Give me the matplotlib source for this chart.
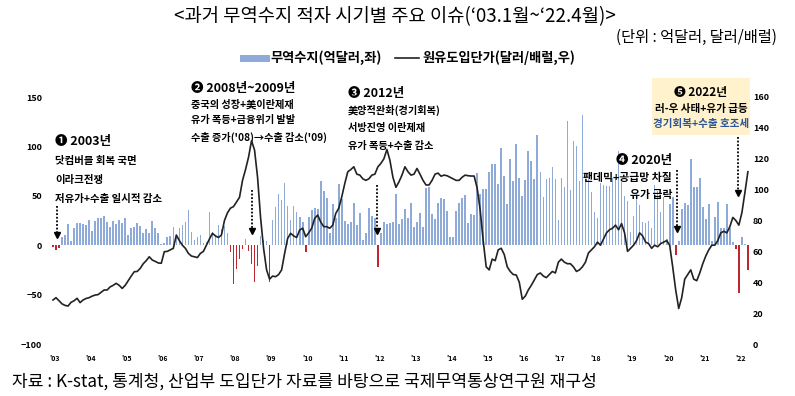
import numpy as np
import matplotlib
matplotlib.use("Agg")
import matplotlib.pyplot as plt
from matplotlib.lines import Line2D
from matplotlib.patches import Rectangle

plt.rcParams['font.family'] = ['Noto Sans CJK KR', 'DejaVu Sans']

# 무역수지 (억달러), 월별 2003.1 ~ 2022.4
t2003 = [-2, -5, -3, 8, 10, 21, 4, 17, 22, 22, 21, 20]
t2004 = [26, 14, 24, 28, 28, 30, 23, 18, 24, 21, 26, 22]
t2005 = [28, 10, 17, 18, 22, 19, 12, 16, 12, 25, 17, 12]
t2006 = [1, 2, 8, 9, 18, 8, 17, 20, 23, 36, 13, 5]
t2007 = [8, 10, 2, 3, 34, 13, 10, 20, 16, 19, 12, -7]
t2008 = [-39, -24, -14, -4, 6, -6, -19, -37, -21, 9, 5, 4]
t2009 = [-37, 26, 39, 52, 46, 63, 40, 26, 40, 34, 29, 23]
t2010 = [-7, 29, 36, 38, 37, 65, 55, 48, 12, 42, 28, 62]
t2011 = [47, 25, 21, 23, 43, 20, 33, 5, 12, 38, 30, 28]
t2012 = [-22, 12, 23, 21, 22, 23, 52, 21, 27, 37, 28, 43]
t2013 = [18, 23, 33, 18, 58, 59, 32, 27, 43, 48, 47, 35]
t2014 = [8, 8, 35, 43, 48, 51, 22, 32, 31, 73, 52, 57]
t2015 = [57, 74, 82, 82, 62, 98, 70, 42, 87, 65, 102, 68]
t2016 = [50, 66, 95, 85, 67, 112, 74, 49, 67, 68, 79, 67]
t2017 = [26, 68, 59, 126, 56, 105, 100, 65, 132, 67, 67, 54]
t2018 = [34, 28, 63, 61, 60, 60, 68, 67, 95, 64, 50, 45]
t2019 = [13, 30, 52, 41, 23, 22, 24, 17, 61, 55, 34, 49]
t2020 = [6, 42, 49, -10, 4, 37, 43, 41, 87, 59, 59, 68]
t2021 = [39, 27, 42, 4, 29, 44, 17, 17, 42, 17, 3, -4]
t2022 = [-48, 8, 1, -25]

# 원유도입단가 (달러/배럴)
o2003 = [28.5, 30, 28, 26, 25, 24.6, 27, 28, 29.6, 26.8, 28.5, 29.5]
o2004 = [30, 31, 31.7, 32, 33.5, 35, 35, 37, 38, 39.3, 38, 36]
o2005 = [38, 41, 44, 46.8, 47, 49, 52, 54, 56.5, 54.4, 53.5, 52.5]
o2006 = [52.3, 59.8, 60, 61, 62, 70.6, 67, 64, 62, 58.7, 57, 56.5]
o2007 = [56, 58.7, 60, 64, 68, 71.7, 70, 69, 70.6, 80, 85, 88]
o2008 = [89, 92, 95, 106, 113, 121, 131.7, 125.6, 108, 82, 62, 48]
o2009 = [42, 44, 43.6, 45, 48, 58.7, 68.4, 71.7, 70, 69, 73.8, 75]
o2010 = [69.5, 72, 75, 81.4, 83.5, 79, 76, 76, 75, 77, 84.6, 88]
o2011 = [95.4, 104, 111.6, 113, 114.8, 110, 109.4, 107, 106, 107, 109.4, 110]
o2012 = [114.8, 117, 120, 126, 119, 108, 101.5, 105, 109.4, 114.8, 111.6, 109.4]
o2013 = [110, 113.7, 110, 106, 103, 103, 106, 110, 110.7, 108.7, 109.4, 109]
o2014 = [108, 107, 106, 106, 108, 109.4, 109, 108.8, 108.8, 101, 87, 67]
o2015 = [50, 48, 55, 54, 61, 62, 58, 50, 47, 45, 44.7, 40]
o2016 = [29, 31, 35, 38, 41.5, 45, 46, 44, 43, 45, 47, 46]
o2017 = [53, 55, 53, 52, 52, 50, 47, 48, 50, 53, 59, 61]
o2018 = [63, 66, 64, 68, 72, 74, 75, 77, 74, 78, 72, 60]
o2019 = [62, 64, 67, 72, 70, 66, 65, 62, 64, 63, 65, 66]
o2020 = [67, 64, 50, 35, 23, 30, 42, 45, 48, 42, 41, 46]
o2021 = [52, 57, 61, 64, 64, 67, 72, 73, 72, 76, 82, 80]
o2022 = [77, 85, 98, 111.6]

year_labels = ["'%02d" % y for y in range(3, 23)]

trade = (t2003 + t2004 + t2005 + t2006 + t2007 + t2008 + t2009 + t2010 + t2011 + t2012
         + t2013 + t2014 + t2015 + t2016 + t2017 + t2018 + t2019 + t2020 + t2021 + t2022)
oil = (o2003 + o2004 + o2005 + o2006 + o2007 + o2008 + o2009 + o2010 + o2011 + o2012
       + o2013 + o2014 + o2015 + o2016 + o2017 + o2018 + o2019 + o2020 + o2021 + o2022)
months = np.arange(len(trade))

BLUE = '#8eaad8'
RED = '#c0262d'

fig = plt.figure(figsize=(7.95, 3.96), dpi=100)
ax = fig.add_axes([45 / 795, 52 / 396, 705 / 795, 247 / 396])
colors = [BLUE if v >= 0 else RED for v in trade]
ax.bar(months, trade, width=0.55, color=colors, zorder=2)
ax.set_ylim(-100, 150)
ax.set_xlim(-2.66, 231.7)

ax2 = ax.twinx()
ax2.plot(months, oil, color='#222222', lw=1.2, zorder=3)
ax2.set_ylim(0, 160)

for a in (ax, ax2):
    for s in a.spines.values():
        s.set_visible(False)
    a.tick_params(length=0)

ax.set_yticks(range(-100, 151, 50))
ax.tick_params(axis='y', labelsize=6.5, pad=2)
ax2.set_yticks(range(0, 161, 20))
ax2.tick_params(axis='y', labelsize=6.5, pad=2)
ax.set_xticks(np.arange(len(year_labels)) * 12 + 0.5)
ax.set_xticklabels(year_labels)
ax.tick_params(axis='x', labelsize=5, pad=8)
for lab in ax.get_yticklabels() + ax2.get_yticklabels() + ax.get_xticklabels():
    lab.set_fontweight('bold')

# legend
handles = [Line2D([], [], color=BLUE, lw=5), Line2D([], [], color='#222222', lw=1.2)]
fig.legend(handles, ['무역수지(억달러,좌)', '원유도입단가(달러/배럴,우)'],
           loc='center', bbox_to_anchor=(409 / 795, 1 - 58 / 396), ncol=2, frameon=False,
           prop=dict(weight='bold', size=9.5), handlelength=1.8, columnspacing=1.0,
           handletextpad=0.3)

fig.text(395 / 795, 1 - 17 / 396, '<과거 무역수지 적자 시기별 주요 이슈(‘03.1월~‘22.4월)>',
         ha='center', va='center', fontsize=13.5)
fig.text(777 / 795, 1 - 37 / 396, '(단위 : 억달러, 달러/배럴)', ha='right', va='center',
         fontsize=11)
fig.text(12 / 795, 1 - 382 / 396,
         '자료 : K-stat, 통계청, 산업부 도입단가 자료를 바탕으로 국제무역통상연구원 재구성',
         ha='left', va='center', fontsize=12.3)


def note(x, ys, lines, ha='left', head=9, body=7, color_last=None):
    for i, (y, s) in enumerate(zip(ys, lines)):
        c = 'black'
        if color_last and i == len(lines) - 1:
            c = color_last
        ax.text(x, y, s, ha=ha, va='center', fontsize=head if i == 0 else body,
                fontweight='bold', color=c, zorder=5)


def arrow(x, y0, y1):
    ax.plot([x, x], [y0, y1], ls=(0, (1, 1)), color='black', lw=1.3, zorder=5, clip_on=False)
    ax.plot([x], [y1], marker='v', color='black', ms=5, zorder=5, clip_on=False)


note(0.66, [104.5, 85.2, 66, 46.8],
     ['❶ 2003년', '닷컴버블 회복 국면', '이라크전쟁', '저유가+수출 일시적 감소'], body=7.5)
arrow(1.3, 40, 10)

note(45.9, [159, 143, 126.7, 109.5],
     ['❷ 2008년~2009년', '중국의 성장+美이란제재', '유가 폭등+금융위기 발발',
      "수출 증가('08)→수출 감소('09)"], body=7.3)
arrow(66.2, 56, 14)

note(98, [154, 136.8, 118.6, 100.4],
     ['❸ 2012년', '美양적완화(경기회복)', '서방진영 이란제재', '유가 폭등+수출 감소'], body=7.3)
arrow(107.7, 61, 14)

note(205.8, [86.2, 68, 51], ['❹ 2020년', '팬데믹+공급망 차질', '유가 급락'], ha='right',
     body=7.8)
arrow(207.5, 76, 16)

ax.add_patch(Rectangle((199.1, 111.5), 32.6, 57.7, facecolor='#fff2cc', edgecolor='none',
                       zorder=1, clip_on=False))
note(215.4, [155, 137.9, 122.7], ['❺ 2022년', '러-우 사태+유가 급등', '경기회복+수출 호조세'],
     ha='center', head=8.5, body=7.6, color_last='#2e5597')
arrow(227.7, 110, 53)

fig.savefig('out.png', dpi=100)
